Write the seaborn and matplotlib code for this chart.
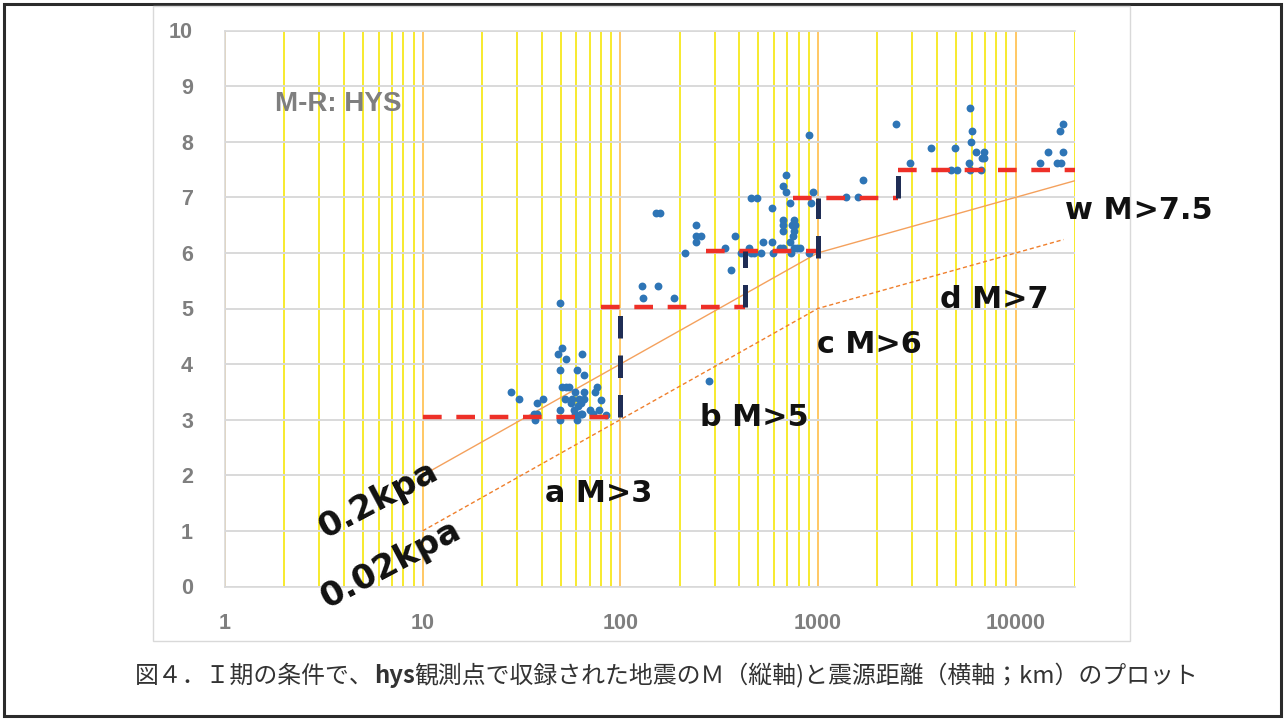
import matplotlib
matplotlib.use("Agg")
import matplotlib.pyplot as plt
from matplotlib.patches import Rectangle
from matplotlib.ticker import FixedLocator, NullFormatter
import pandas as pd
import seaborn as sns

# ---- recorded events: hypocentral distance (km) and magnitude ----
dist_km = [
    50.9, 48.2, 64.2, 52.9, 49.3, 60.6, 65.2, 50.9, 52.9, 55.0, 59.0, 65.2, 76.7, 74.1,
    28.1, 30.9, 40.8, 38.1, 52.3, 57.3, 61.6, 65.2, 56.6, 63.0, 79.9, 49.3, 58.1, 70.0,
    78.4, 60.9, 36.4, 38.1, 59.3, 63.0, 64.4, 73.2, 84.8, 37.1, 49.3, 60.1, 49.3,
    129, 156, 131, 188, 152, 159, 212, 243, 243, 256, 243, 337, 379, 362, 408, 425, 447,
    458, 475, 515, 457, 490, 526, 584, 584, 591, 646, 664, 720, 734, 754, 784, 815, 902,
    664, 664, 664, 754, 767, 740, 754, 747, 722, 664, 688, 688, 942, 925, 899, 282,
    1393, 1603, 1694, 2489, 2918, 3727, 4949, 4701, 5032, 5871, 6038, 5951, 6330, 5825,
    5871, 6706, 6955, 6803, 6955, 13270, 14650, 16130, 16910, 17290, 16800, 17290,
]
magnitude = [
    4.29, 4.19, 4.19, 4.09, 3.89, 3.89, 3.80, 3.59, 3.59, 3.59, 3.49, 3.49, 3.59, 3.49,
    3.49, 3.38, 3.38, 3.30, 3.38, 3.38, 3.38, 3.38, 3.30, 3.30, 3.36, 3.18, 3.18, 3.18,
    3.18, 3.24, 3.10, 3.10, 3.10, 3.10, 3.10, 3.10, 3.09, 2.99, 2.99, 2.99, 5.10,
    5.40, 5.40, 5.19, 5.19, 6.71, 6.71, 6.00, 6.51, 6.31, 6.31, 6.19, 6.09, 6.31, 5.70,
    6.00, 6.00, 6.09, 6.00, 6.00, 6.00, 6.99, 6.99, 6.19, 6.19, 6.80, 6.00, 6.09, 6.09,
    6.19, 6.00, 6.09, 6.09, 6.09, 6.00, 6.59, 6.50, 6.39, 6.59, 6.50, 6.50, 6.39, 6.30,
    6.90, 7.21, 7.10, 7.40, 7.10, 6.90, 8.12, 3.70,
    7.00, 7.00, 7.31, 8.31, 7.61, 7.89, 7.89, 7.50, 7.50, 8.60, 8.20, 8.00, 7.81, 7.61,
    7.50, 7.50, 7.81, 7.70, 7.70, 7.61, 7.81, 7.61, 7.61, 7.81, 8.20, 8.31,
]

# ---- magnitude thresholds per distance band (red) ----
thr_start_km = [10, 80, 272, 750, 2550]
thr_end_km = [100, 430, 1000, 2550, 20000]
thr_mag = [3.04, 5.03, 6.03, 6.98, 7.5]

# ---- risers joining the bands (navy) ----
riser_km = [100, 430, 1000, 2550]
riser_low = [3.04, 5.03, 5.9, 6.98]
riser_high = [5.03, 6.03, 6.98, 7.5]

# ---- pressure reference curves ----
kpa02_km = [10, 1000, 22000]
kpa02_mag = [2.0, 6.0, 7.34]
kpa002_km = [10, 1000, 17500]
kpa002_mag = [1.0, 5.0, 6.24]

band_labels = ["a M>3", "b M>5", "c M>6", "d M>7", "w M>7.5"]
y_ticks = list(range(0, 11))
x_ticks = [1, 10, 100, 1000, 10000]
x_tick_labels = ["1", "10", "100", "1000", "10000"]

caption_parts = [
    ("図４．Ｉ期の条件で、", "normal"),
    ("hys", "bold"),
    ("観測点で収録された地震のＭ（縦軸)と震源距離（横軸；km）のプロット", "normal"),
]

W, H = 1284, 719
sns.set_theme(style="white")
plt.rcParams["font.family"] = ["Liberation Sans", "DejaVu Sans"]

fig = plt.figure(figsize=(W / 100, H / 100), dpi=100)
fig.patch.set_facecolor("white")

# outer frame and chart-area box
fig.add_artist(Rectangle((4 / W, 1 - 716 / H), 1277 / W, 712 / H, transform=fig.transFigure,
                         fill=False, edgecolor="#2b2b2b", linewidth=2.2))
fig.add_artist(Rectangle((153 / W, 1 - 641 / H), (1130 - 153) / W, (641 - 6) / H,
                         transform=fig.transFigure, fill=False, edgecolor="#d9d9d9",
                         linewidth=1.0))

ax = fig.add_axes([225 / W, 1 - 586.5 / H, 850 / W, 556 / H])
ax.set_xscale("log")
ax.set_xlim(1, 20000)
ax.set_ylim(0, 10)

# grid: grey horizontals, yellow verticals (decades in light orange)
ax.set_axisbelow(True)
ax.yaxis.set_major_locator(FixedLocator(y_ticks))
ax.xaxis.set_major_locator(FixedLocator(x_ticks))
minor = [m * 10 ** k for k in range(0, 5) for m in range(2, 10) if m * 10 ** k <= 20000]
ax.xaxis.set_minor_locator(FixedLocator(minor))
ax.xaxis.set_minor_formatter(NullFormatter())
ax.grid(True, axis="y", which="major", color="#d9d9d9", linewidth=1.4)
ax.grid(True, axis="x", which="major", color="#ffc864", linewidth=1.4)
ax.grid(True, axis="x", which="minor", color="#f7e81c", linewidth=1.3)
for s in ax.spines.values():
    s.set_color("#d9d9d9")
    s.set_linewidth(1.2)
ax.spines["right"].set_visible(False)

ax.set_xticklabels(x_tick_labels)
ax.tick_params(axis="both", which="both", length=0)
ax.tick_params(axis="y", pad=23)
ax.tick_params(axis="x", pad=19)
for lab in ax.get_xticklabels() + ax.get_yticklabels():
    lab.set_fontsize(15.5)
    lab.set_fontweight("bold")
    lab.set_color("#7f7f7f")

# reference pressure curves
sns.lineplot(x=kpa02_km, y=kpa02_mag, ax=ax, color="#f4a15d", linewidth=1.0,
             estimator=None, sort=False, zorder=3)
sns.lineplot(x=kpa002_km, y=kpa002_mag, ax=ax, color="#ef7f2c", linewidth=1.0,
             linestyle=(0, (3, 2)), estimator=None, sort=False, zorder=3)

# observed events
events = pd.DataFrame({"dist": dist_km, "mag": magnitude})
sns.scatterplot(data=events, x="dist", y="mag", ax=ax, color="#2e75b6", s=32,
                linewidth=0, zorder=4)

# band thresholds and risers
for x0, x1, m in zip(thr_start_km, thr_end_km, thr_mag):
    sns.lineplot(x=[x0, x1], y=[m, m], ax=ax, color="#ee3028", linewidth=3.2,
                 linestyle=(0, (4.2, 3.3)), estimator=None, sort=False, zorder=5)
for xr, lo, hi in zip(riser_km, riser_low, riser_high):
    sns.lineplot(x=[xr, xr], y=[lo, hi], ax=ax, color="#1f2d55", linewidth=3.6,
                 linestyle=(0, (4.5, 3.4)), estimator=None, sort=False, zorder=5)
ax.set_xlabel("")
ax.set_ylabel("")

heavy = dict(family=["DejaVu Sans"], fontweight="bold", color="#111111")
band_pos = [(41.7, 1.68), (254, 3.04), (994, 4.35), (4170, 5.16), (17900, 6.77)]
for txt, (bx, by) in zip(band_labels, band_pos):
    ax.text(bx, by, txt, fontsize=21.8, ha="left", va="center", zorder=6, **heavy)
ax.text(5.99, 1.56, "0.2kpa", fontsize=24.5, rotation=28, ha="center", va="center",
        rotation_mode="anchor", zorder=6, **heavy)
ax.text(6.89, 0.40, "0.02kpa", fontsize=24.5, rotation=28, ha="center", va="center",
        rotation_mode="anchor", zorder=6, **heavy)
ax.text(1.79, 8.68, "M-R: HYS", fontsize=20, fontweight="bold", color="#7f7f7f",
        ha="left", va="center", family=["Liberation Sans", "DejaVu Sans"])

# caption with a bold station code in the middle
renderer = fig.canvas.get_renderer()
cx = 135 / W
for part, weight in caption_parts:
    t = fig.text(cx, 1 - 676 / H, part, fontsize=17.2, fontweight=weight, color="#333333",
                 ha="left", va="center", family=["Noto Sans CJK JP", "DejaVu Sans"])
    cx = t.get_window_extent(renderer).x1 / W

fig.savefig("out.png", dpi=100)
